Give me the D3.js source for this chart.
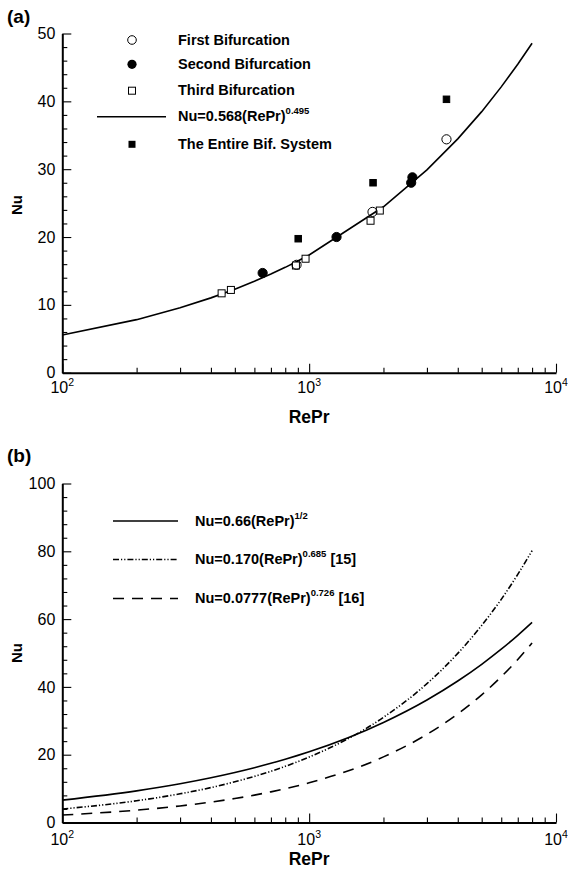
<!DOCTYPE html>
<html>
<head>
<meta charset="utf-8">
<script src="https://cdn.jsdelivr.net/npm/d3@7"></script>
<style>
  body { margin: 0; background: #fff; }
  svg { display: block; font-family: "Liberation Sans", Arial, sans-serif; }
</style>
</head>
<body>
<svg id="chart" width="568" height="869"></svg>
<script>
// panel (a): correlation curve sampled at these RePr values
var fitRePr = [100, 200, 300, 400, 500, 600, 700, 800, 900, 1000, 2000, 3000, 4000, 5000, 6000, 7000, 8000];
var fitNu = [5.55, 7.82, 9.56, 11.03, 12.31, 13.48, 14.54, 15.53, 16.47, 17.35, 24.46, 29.89, 34.47, 38.48, 42.13, 45.47, 48.57];

// panel (a): data points
var firstRePr = [889, 1806, 3600];
var firstNu = [15.9, 23.7, 34.4];
var secondRePr = [648, 1291, 2590, 2620];
var secondNu = [14.7, 20.0, 28.0, 28.8];
var thirdRePr = [442, 482, 884, 967, 1773, 1933];
var thirdNu = [11.7, 12.2, 15.8, 16.8, 22.4, 23.9];
var entireRePr = [903, 1815, 3600];
var entireNu = [19.75, 28.0, 40.3];

// panel (b): three correlations
var corrRePr = [100, 200, 300, 400, 500, 600, 700, 800, 900, 1000, 2000, 3000, 4000, 5000, 6000, 7000, 8000];
var nuPresent = [6.6, 9.33, 11.43, 13.2, 14.76, 16.17, 17.46, 18.67, 19.8, 20.87, 29.52, 36.15, 41.74, 46.67, 51.12, 55.22, 59.03];
var nuRef15 = [3.98, 6.41, 8.46, 10.30, 12.01, 13.60, 15.11, 16.56, 17.95, 19.30, 31.03, 40.95, 49.88, 58.14, 65.83, 73.18, 80.19];
var nuRef16 = [2.20, 3.64, 4.88, 6.02, 7.08, 8.08, 9.04, 9.96, 10.85, 11.71, 19.36, 25.99, 32.03, 37.66, 43.00, 48.08, 52.98];

var xMajor = [100, 1000, 10000];
var xMinor = [200, 300, 400, 500, 600, 700, 800, 900, 2000, 3000, 4000, 5000, 6000, 7000, 8000, 9000];
var xExp = ["2", "3", "4"];
var yMajorA = [0, 10, 20, 30, 40, 50];
var yMajorB = [0, 20, 40, 60, 80, 100];

var svg = d3.select("#chart");

var x = d3.scaleLog().domain([100, 10000]).range([62.3, 556]);
var yA = d3.scaleLinear().domain([0, 50]).range([372.7, 33.5]);
var yB = d3.scaleLinear().domain([0, 100]).range([822.5, 483.5]);

function zip(xs, ys) {
  return xs.map(function(v, i) { return { x: v, y: ys[i] }; });
}

function drawAxes(y, yMajor, yStep, labelY, titleY, nuY) {
  var y0 = y.range()[0];
  var g = svg.append("g");

  // y minor ticks
  var yMinor = d3.range(y.domain()[0], y.domain()[1] + 0.001, yStep).filter(function(v) { return yMajor.indexOf(v) < 0; });
  g.append("g").attr("transform", "translate(" + x.range()[0] + ",0)")
    .call(d3.axisLeft(y).tickValues(yMinor).tickSizeInner(-5).tickSizeOuter(0).tickFormat(""))
    .call(function(a) { a.select(".domain").remove(); });
  var ya = g.append("g").attr("transform", "translate(" + x.range()[0] + ",0)")
    .call(d3.axisLeft(y).tickValues(yMajor).tickSizeInner(-9).tickSizeOuter(0).tickPadding(7));
  ya.selectAll("text").attr("font-size", "16px").attr("font-family", "Liberation Sans, Arial, sans-serif").attr("fill", "#000");

  // x ticks
  g.append("g").attr("transform", "translate(0," + y0 + ")")
    .call(d3.axisBottom(x).tickValues(xMinor).tickSizeInner(-5).tickSizeOuter(0).tickFormat(""))
    .call(function(a) { a.select(".domain").remove(); });
  g.append("g").attr("transform", "translate(0," + y0 + ")")
    .call(d3.axisBottom(x).tickValues(xMajor).tickSizeInner(-9).tickSizeOuter(0).tickFormat(""));

  g.selectAll(".domain").attr("stroke-width", 2).attr("stroke", "#000");
  g.selectAll(".tick line").attr("stroke-width", 1.1).attr("stroke", "#000");

  // 10^n labels
  xMajor.forEach(function(v, i) {
    var t = svg.append("text").attr("x", x(v)).attr("y", labelY)
      .attr("text-anchor", "middle").attr("font-size", "16px");
    t.append("tspan").text("10");
    t.append("tspan").attr("dy", -7).attr("font-size", "10.5px").text(xExp[i]);
  });

  svg.append("text").attr("x", (x.range()[0] + x.range()[1]) / 2).attr("y", titleY)
    .attr("text-anchor", "middle").attr("font-size", "17.5px").attr("font-weight", "bold").text("RePr");

  svg.append("text").attr("transform", "translate(22," + nuY + ") rotate(-90)")
    .attr("text-anchor", "middle").attr("font-size", "15px").attr("font-weight", "bold").text("Nu");
}

// ---------- panel (a) ----------
svg.append("text").attr("x", 7).attr("y", 23).attr("font-size", "19px").attr("font-weight", "bold").text("(a)");
drawAxes(yA, yMajorA, 2, 393, 423, 205);

var lineA = d3.line().x(function(d) { return x(d.x); }).y(function(d) { return yA(d.y); });
svg.append("path").datum(zip(fitRePr, fitNu)).attr("d", lineA)
  .attr("fill", "none").attr("stroke", "#000").attr("stroke-width", 1.6);

function circles(xs, ys, fill) {
  svg.append("g").selectAll("circle").data(zip(xs, ys)).enter().append("circle")
    .attr("cx", function(d) { return x(d.x); })
    .attr("cy", function(d) { return yA(d.y); })
    .attr("r", 4.6).attr("fill", fill).attr("stroke", "#000").attr("stroke-width", 1);
}
function squares(xs, ys, fill, s) {
  svg.append("g").selectAll("rect").data(zip(xs, ys)).enter().append("rect")
    .attr("x", function(d) { return x(d.x) - s / 2; })
    .attr("y", function(d) { return yA(d.y) - s / 2; })
    .attr("width", s).attr("height", s).attr("fill", fill).attr("stroke", "#000").attr("stroke-width", 1);
}
squares(thirdRePr, thirdNu, "#fff", 7);
circles(firstRePr, firstNu, "none");
circles(secondRePr, secondNu, "#000");
squares(entireRePr, entireNu, "#000", 6.5);

// legend (a)
var legA = svg.append("g");
var legRowsA = [40, 64.3, 90.7, 116.7, 144.3];
legA.append("circle").attr("cx", 132).attr("cy", legRowsA[0]).attr("r", 4.3).attr("fill", "#fff").attr("stroke", "#000");
legA.append("circle").attr("cx", 132).attr("cy", legRowsA[1]).attr("r", 4.6).attr("fill", "#000");
legA.append("rect").attr("x", 128.5).attr("y", legRowsA[2] - 3.5).attr("width", 7).attr("height", 7).attr("fill", "#fff").attr("stroke", "#000");
legA.append("line").attr("x1", 97).attr("x2", 166).attr("y1", legRowsA[3]).attr("y2", legRowsA[3]).attr("stroke", "#000").attr("stroke-width", 1.6);
legA.append("rect").attr("x", 128.5).attr("y", legRowsA[4] - 3.5).attr("width", 7).attr("height", 7).attr("fill", "#000");

var legTextA = ["First Bifurcation", "Second Bifurcation", "Third Bifurcation", null, "The Entire Bif. System"];
legTextA.forEach(function(s, i) {
  var t = legA.append("text").attr("x", 178).attr("y", legRowsA[i] + 4.5)
    .attr("font-size", "14.5px").attr("font-weight", "bold");
  if (s) { t.text(s); return; }
  t.append("tspan").text("Nu=0.568(RePr)");
  t.append("tspan").attr("dy", -7).attr("font-size", "9.5px").text("0.495");
});

// ---------- panel (b) ----------
svg.append("text").attr("x", 7).attr("y", 462).attr("font-size", "19px").attr("font-weight", "bold").text("(b)");
drawAxes(yB, yMajorB, 4, 845, 865, 653);

// smooth curves in (b)
var lineB = d3.line().curve(d3.curveMonotoneX)
  .x(function(d) { return x(d.x); }).y(function(d) { return yB(d.y); });
var seriesB = [
  { nu: nuPresent, dash: null, lab: "Nu=0.66(RePr)", sup: "1/2", ref: "" },
  { nu: nuRef15, dash: "6,2,1.2,2,1.2,2", lab: "Nu=0.170(RePr)", sup: "0.685", ref: " [15]" },
  { nu: nuRef16, dash: "11,8", lab: "Nu=0.0777(RePr)", sup: "0.726", ref: " [16]" }
];
var legRowsB = [521, 559.5, 598.5];

seriesB.forEach(function(s, i) {
  svg.append("path").datum(zip(corrRePr, s.nu)).attr("d", lineB)
    .attr("fill", "none").attr("stroke", "#000").attr("stroke-width", 1.6)
    .attr("stroke-dasharray", s.dash);

  svg.append("line").attr("x1", 113).attr("x2", 178).attr("y1", legRowsB[i]).attr("y2", legRowsB[i])
    .attr("stroke", "#000").attr("stroke-width", 1.6).attr("stroke-dasharray", s.dash);
  var t = svg.append("text").attr("x", 195).attr("y", legRowsB[i] + 4.5)
    .attr("font-size", "14.5px").attr("font-weight", "bold");
  t.append("tspan").text(s.lab);
  t.append("tspan").attr("dy", -7).attr("font-size", "9.5px").text(s.sup);
  t.append("tspan").attr("dy", 7).text(s.ref);
});
</script>
</body>
</html>
